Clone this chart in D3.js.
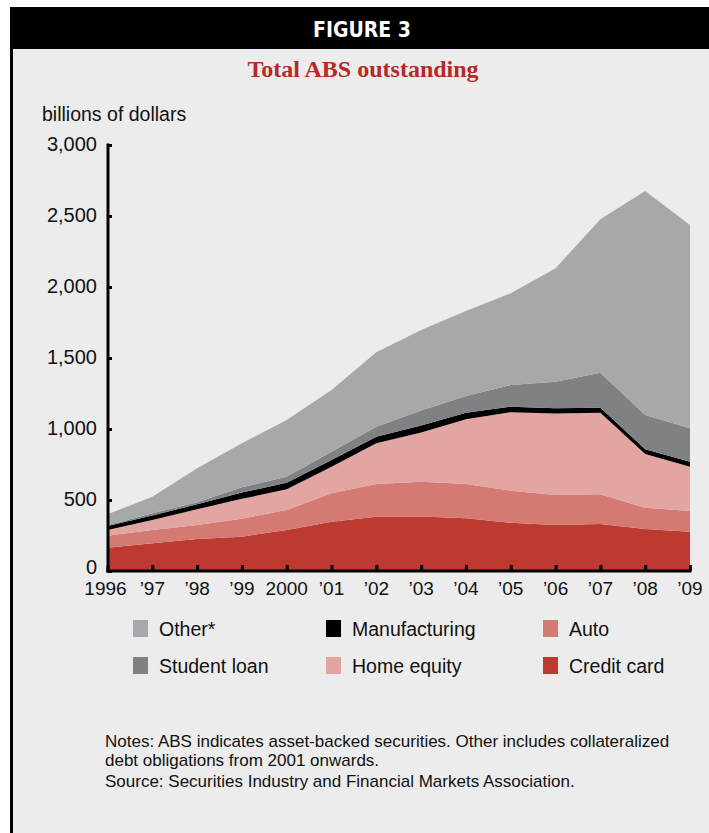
<!DOCTYPE html>
<html><head><meta charset="utf-8">
<script src="https://cdn.jsdelivr.net/npm/d3@7"></script>
<style>
html,body{margin:0;padding:0;background:#fff;}
svg{display:block;}
</style></head>
<body>
<svg id="chart" width="709" height="833"></svg>
<script>
const years = [1996,1997,1998,1999,2000,2001,2002,2003,2004,2005,2006,2007,2008,2009];
const yearLabels = ["1996","\u201997","\u201998","\u201999","2000","\u201901","\u201902","\u201903","\u201904","\u201905","\u201906","\u201907","\u201908","\u201909"];
const creditCard   = [164,195,225,242,289,347,382,384,371,340,324,331,296,277];
const auto         = [85,94,99,126,141,200,231,245,242,226,211,209,150,145];
const homeEquity   = [40,70,110,140,145,188,286,346,455,552,575,575,378,313];
const manufacturing= [28,31,36,44,47,47,47,50,47,39,36,35,33,35];
const studentLoan  = [5,16,14,37,42,58,70,105,117,153,187,247,242,235];
const other        = [77,117,239,310,399,435,524,567,599,646,799,1080,1577,1432];
const yTicks = [0,500,1000,1500,2000,2500,3000];
const seriesNames = ["Credit card","Auto","Home equity","Manufacturing","Student loan","Other*"];
const seriesColors = ["#bd3a30","#d47a72","#e2a5a1","#000000","#808184","#a7a8ab"];

const svg = d3.select("#chart");
// panel
svg.append("rect").attr("x",10).attr("y",7).attr("width",699).attr("height",826).attr("fill","#ececec");
svg.append("rect").attr("x",10).attr("y",7).attr("width",699).attr("height",42).attr("fill","#000");
svg.append("rect").attr("x",10).attr("y",7).attr("width",3).attr("height",826).attr("fill","#000");
svg.append("text").attr("x",362).attr("y",37).attr("text-anchor","middle")
  .attr("font-family","'Liberation Sans Narrow','DejaVu Sans Condensed',sans-serif").attr("font-weight","bold")
  .attr("font-size",21).attr("fill","#fff").text("FIGURE 3");
svg.append("text").attr("x",363).attr("y",77).attr("text-anchor","middle")
  .attr("font-family","'Liberation Serif',serif").attr("font-weight","bold")
  .attr("font-size",24).attr("fill","#b52a27").text("Total ABS outstanding");
const font = "'Liberation Sans',Arial,sans-serif";
svg.append("text").attr("x",42).attr("y",121)
  .attr("font-family",font).attr("font-size",19.5).attr("fill","#111").text("billions of dollars");

const x = d3.scaleLinear().domain([1996,2009]).range([107.5,690]);
const y = d3.scaleLinear().domain([0,3000]).range([571,145]);

const table = years.map((yr,i)=>({year:yr, "Credit card":creditCard[i], "Auto":auto[i], "Home equity":homeEquity[i],
  "Manufacturing":manufacturing[i], "Student loan":studentLoan[i], "Other*":other[i]}));
const stack = d3.stack().keys(seriesNames)(table);
const area = d3.area().x(d=>x(d.data.year)).y0(d=>y(d[0])).y1(d=>y(d[1]));
svg.append("g").selectAll("path").data(stack).join("path")
  .attr("d",area).attr("fill",(d,i)=>seriesColors[i]);

// axes
const yAxis = svg.append("g").attr("transform","translate(108,0)")
  .call(d3.axisRight(y).tickValues(yTicks).tickSize(4).tickFormat(""));
yAxis.select(".domain").attr("d","M0,"+(y(3000)-1.5)+"V"+(y(0)+1.5)).attr("stroke","#000").attr("stroke-width",3).attr("fill","none");
yAxis.selectAll(".tick line").attr("stroke","#000").attr("stroke-width",3);
svg.append("g").selectAll("text").data(yTicks).join("text")
  .attr("x",97).attr("y",d=>y(d)+(d===0?3:6)).attr("text-anchor","end")
  .attr("font-family",font).attr("font-size",20).attr("fill","#111").text(d=>d3.format(",")(d));

const xAxis = svg.append("g").attr("transform","translate(0,571)")
  .call(d3.axisTop(x).tickValues(years).tickSize(6).tickFormat(""));
xAxis.select(".domain").attr("d","M106.5,0H691.5").attr("stroke","#000").attr("stroke-width",3);
xAxis.selectAll(".tick line").attr("stroke","#000").attr("stroke-width",3);
svg.append("g").selectAll("text").data(years).join("text")
  .attr("x",(d,i)=>x(d) + (i===0?-2:0)).attr("y",595).attr("text-anchor","middle")
  .attr("font-family",font).attr("font-size",19).attr("fill","#111").text((d,i)=>yearLabels[i]);

// legend
const legendItems = [
  {name:"Other*", col:5, px:133, py:620},
  {name:"Manufacturing", col:3, px:326, py:620},
  {name:"Auto", col:1, px:543, py:620},
  {name:"Student loan", col:4, px:133, py:657},
  {name:"Home equity", col:2, px:326, py:657},
  {name:"Credit card", col:0, px:543, py:657}
];
const lg = svg.append("g").selectAll("g").data(legendItems).join("g");
lg.append("rect").attr("x",d=>d.px).attr("y",d=>d.py).attr("width",15).attr("height",17)
  .attr("fill",d=>seriesColors[d.col]);
lg.append("text").attr("x",d=>d.px+26).attr("y",d=>d.py+16).attr("font-family",font).attr("font-size",19.5)
  .attr("fill","#111").text(d=>d.name);

// notes
const notes = ["Notes: ABS indicates asset-backed securities. Other includes collateralized",
  "debt obligations from 2001 onwards.",
  "Source: Securities Industry and Financial Markets Association."];
svg.append("g").selectAll("text").data(notes).join("text")
  .attr("x",105).attr("y",(d,i)=>[747,766,787][i]).attr("font-family",font).attr("font-size",17)
  .attr("fill","#111").text(d=>d);
</script>
</body></html>
